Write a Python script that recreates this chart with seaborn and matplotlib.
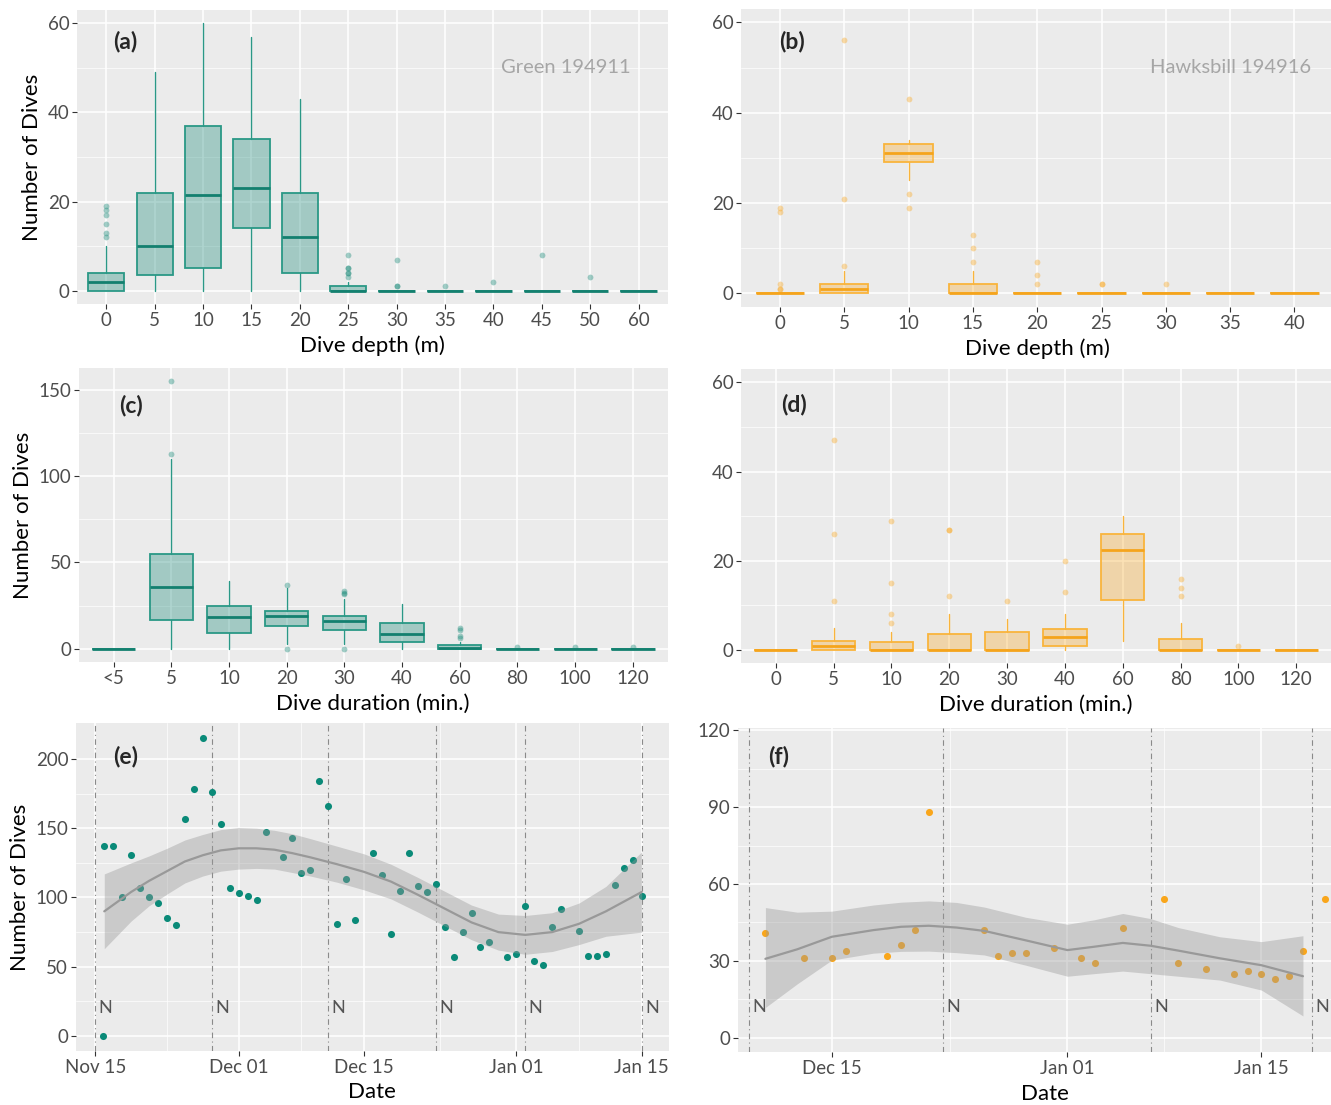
import matplotlib
matplotlib.use('Agg')
import matplotlib.pyplot as plt
import matplotlib.dates as mdates
from matplotlib.ticker import NullLocator
import seaborn as sns
import pandas as pd

# ---------------- data ----------------
# (a) Green 194911 - dive depth
cats_a = ['0', '5', '10', '15', '20', '25', '30', '35', '40', '45', '50', '60']
a_q1 = [0, 3.5, 5, 14, 4, 0, 0, 0, 0, 0, 0, 0]
a_med = [2, 10, 21.5, 23, 12, 0, 0, 0, 0, 0, 0, 0]
a_q3 = [4, 22, 37, 34, 22, 1, 0, 0, 0, 0, 0, 0]
a_wlo = [0, 0, 0, 0, 0, 0, 0, 0, 0, 0, 0, 0]
a_whi = [10, 49, 60, 57, 43, 2, 0, 0, 0, 0, 0, 0]
a_out = [[12, 13, 15, 17, 18, 19], [], [], [], [], [3, 4, 4, 5, 5, 8],
         [1, 1, 7], [1], [2], [8], [3], []]

# (b) Hawksbill 194916 - dive depth
cats_b = ['0', '5', '10', '15', '20', '25', '30', '35', '40']
b_q1 = [0, 0, 29, 0, 0, 0, 0, 0, 0]
b_med = [0, 1, 31, 0, 0, 0, 0, 0, 0]
b_q3 = [0, 2, 33, 2, 0, 0, 0, 0, 0]
b_wlo = [0, 0, 25, 0, 0, 0, 0, 0, 0]
b_whi = [0, 5, 34, 5, 0, 0, 0, 0, 0]
b_out = [[1, 1, 2, 18, 19], [6, 21, 56], [19, 22, 43], [7, 10, 13],
         [2, 4, 7], [2, 2], [2], [], []]

# (c) Green - dive duration
cats_c = ['<5', '5', '10', '20', '30', '40', '60', '80', '100', '120']
c_q1 = [0, 16.5, 9, 13, 11, 4, 0, 0, 0, 0]
c_med = [0, 35.5, 18.5, 19, 16, 8.5, 0.5, 0, 0, 0]
c_q3 = [0, 55, 25, 22, 19, 15, 2, 0, 0, 0]
c_wlo = [0, 0, 0, 3, 3, 0, 0, 0, 0, 0]
c_whi = [0, 110, 39, 35, 29, 26, 4, 0, 0, 0]
c_out = [[], [113, 155], [], [0, 37], [0, 31.5, 32.5, 33.5], [],
         [6.5, 7.5, 11, 12], [1], [1], [1]]

# (d) Hawksbill - dive duration
cats_d = ['0', '5', '10', '20', '30', '40', '60', '80', '100', '120']
d_q1 = [0, 0, 0, 0, 0, 1, 11.3, 0, 0, 0]
d_med = [0, 1, 0, 0, 0, 3, 22.5, 0, 0, 0]
d_q3 = [0, 2, 1.7, 3.7, 4, 4.8, 26, 2.5, 0, 0]
d_wlo = [0, 0, 0, 0, 0, 0, 2, 0, 0, 0]
d_whi = [0, 5, 4, 8, 7, 8, 30, 6, 0, 0]
d_out = [[], [11, 26, 47], [6, 8, 15, 29], [12, 27, 27], [11], [13, 20],
         [], [12, 14, 16], [1], []]

# (e) Green - daily dives
e_dates = ['2017-11-15 21:00', '2017-11-16', '2017-11-17', '2017-11-18', '2017-11-19',
           '2017-11-20', '2017-11-21', '2017-11-22', '2017-11-23', '2017-11-24',
           '2017-11-25', '2017-11-26', '2017-11-27', '2017-11-28', '2017-11-29',
           '2017-11-30', '2017-12-01', '2017-12-02', '2017-12-03', '2017-12-04',
           '2017-12-06', '2017-12-07', '2017-12-08', '2017-12-09', '2017-12-10',
           '2017-12-11', '2017-12-12', '2017-12-13', '2017-12-14', '2017-12-16',
           '2017-12-17', '2017-12-18', '2017-12-19', '2017-12-20', '2017-12-21',
           '2017-12-22', '2017-12-23', '2017-12-24', '2017-12-25', '2017-12-26',
           '2017-12-27', '2017-12-28', '2017-12-29', '2017-12-31', '2018-01-01',
           '2018-01-02', '2018-01-03', '2018-01-04', '2018-01-05', '2018-01-06',
           '2018-01-08', '2018-01-09', '2018-01-10', '2018-01-11', '2018-01-12',
           '2018-01-13', '2018-01-14', '2018-01-15']
e_vals = [0, 137, 137, 100, 131, 107, 100, 96, 85, 80, 157, 178, 215, 176, 153,
          107, 103, 101, 98, 147, 129, 143, 118, 120, 184, 166, 81, 113, 84, 132,
          116, 74, 105, 132, 108, 104, 110, 79, 57, 75, 89, 64, 68, 57, 59,
          94, 54, 51, 79, 92, 76, 58, 58, 59, 109, 121, 127, 101]
e_new = ['2017-11-15', '2017-11-28', '2017-12-11', '2017-12-23', '2018-01-02', '2018-01-15']
e_sm_dates = ['2017-11-16', '2017-11-19', '2017-11-21', '2017-11-23', '2017-11-25',
              '2017-11-27', '2017-11-29', '2017-12-01', '2017-12-03', '2017-12-05',
              '2017-12-07', '2017-12-09', '2017-12-12', '2017-12-15', '2017-12-18',
              '2017-12-21', '2017-12-24', '2017-12-27', '2017-12-30', '2018-01-02',
              '2018-01-05', '2018-01-08', '2018-01-11', '2018-01-15']
e_sm_fit = [90, 104, 112, 119, 126, 130.5, 134, 135.5, 135.5, 134.5, 132, 129, 124,
            118.5, 111.5, 102, 92, 82, 75, 73, 75, 81, 90, 104]
e_sm_lo = [63, 83, 94, 102.5, 110.5, 115.5, 119, 120.5, 121, 120.5, 118, 115.5, 111,
           105.5, 99, 89.5, 79.5, 69.5, 62, 59, 61, 66, 72, 75]
e_sm_hi = [117, 125, 130, 135.5, 141.5, 145.5, 149, 150.5, 150, 148.5, 146, 142.5, 137,
           131.5, 124, 114.5, 104.5, 94.5, 88, 87, 89, 96, 108, 133]

# (f) Hawksbill - daily dives
f_dates = ['2017-12-10 05:00', '2017-12-13', '2017-12-15', '2017-12-16', '2017-12-19',
           '2017-12-20', '2017-12-21', '2017-12-22', '2017-12-26', '2017-12-27',
           '2017-12-28', '2017-12-29', '2017-12-31', '2018-01-02', '2018-01-03',
           '2018-01-05', '2018-01-08', '2018-01-09', '2018-01-11', '2018-01-13',
           '2018-01-14', '2018-01-15', '2018-01-16', '2018-01-17', '2018-01-18',
           '2018-01-19 14:00']
f_vals = [41, 31, 31, 34, 32, 36, 42, 88, 42, 32, 33, 33, 35, 31, 29, 43, 54,
          29, 27, 25, 26, 25, 23, 24, 34, 54]
f_new = ['2017-12-09', '2017-12-23', '2018-01-07', '2018-01-18 16:00']
f_sm_dates = ['2017-12-10 05:00', '2017-12-12 12:00', '2017-12-15', '2017-12-18',
              '2017-12-20', '2017-12-22', '2017-12-24', '2017-12-26', '2017-12-29',
              '2018-01-01', '2018-01-02 22:00', '2018-01-05', '2018-01-07',
              '2018-01-09', '2018-01-12', '2018-01-15', '2018-01-18']
f_sm_fit = [30.8, 34.5, 39.4, 42, 43.3, 43.7, 43, 41.7, 38, 34.2, 35.5, 37, 35.9,
            34, 31, 28.3, 24]
f_sm_lo = [11.8, 21, 30.3, 33, 33.7, 33.8, 33.2, 32.3, 28.3, 24, 25, 26, 25, 24,
           22.5, 18.6, 8.5]
f_sm_hi = [50.8, 49, 49.4, 51.8, 52.9, 53.4, 52.8, 51, 47, 44.3, 46, 48.5, 46.5,
           43, 39.4, 37.5, 39.8]

# ---------------- style ----------------
TEAL = '#1B8A79'
TEAL_EDGE = '#2A9886'
TEAL_MED = '#13806F'
ORANGE = '#F9A825'
ORANGE_EDGE = '#F9B43C'
ORANGE_MED = '#F5A41C'
PT_TEAL = '#0A8A78'
PT_ORANGE = '#F9A61B'

sns.set_theme(style='darkgrid', rc={'axes.facecolor': '#EBEBEB', 'grid.color': 'white'})
plt.rcParams['font.family'] = ['Lato', 'DejaVu Sans']

W, H = 1331, 1105
fig = plt.figure(figsize=(W / 100, H / 100), dpi=100)
fig.patch.set_facecolor('white')

LABEL_FS = 16
PANEL_FS = 16.5
XPAD = 5


def to_dt(vals):
    return pd.to_datetime(pd.Series(vals), format='mixed')


def pos(l, t, r, b):
    return [l / W, 1 - b / H, (r - l) / W, (b - t) / H]


def style(ax):
    ax.set_facecolor('#EBEBEB')
    for s in ax.spines.values():
        s.set_visible(False)
    ax.set_axisbelow(True)
    ax.grid(True, which='major', color='white', lw=1.1)
    ax.grid(True, which='minor', color='white', lw=0.5)
    ax.tick_params(which='major', length=3.5, width=0.8, color='#333333',
                   labelsize=13.5, labelcolor='#4D4D4D', pad=2, left=True, bottom=True)
    ax.tick_params(which='minor', length=0)


def box_panel(ax, cats, q1, med, q3, wlo, whi, outs, base, edge, medc, alpha,
              ylim, yticks, yminor):
    stats = [dict(med=m, q1=a, q3=b, whislo=lo, whishi=hi, fliers=o)
             for a, m, b, lo, hi, o in zip(q1, med, q3, wlo, whi, outs)]
    ax.bxp(stats, positions=list(range(len(cats))), widths=0.75, patch_artist=True,
           showcaps=False, manage_ticks=False,
           boxprops=dict(facecolor=matplotlib.colors.to_rgba(base, alpha),
                         edgecolor=edge, lw=1.3),
           medianprops=dict(color=medc, lw=2.0),
           whiskerprops=dict(color=edge, lw=1.0),
           flierprops=dict(marker='o', markerfacecolor=base, markeredgecolor='none',
                           markersize=4.2, alpha=0.4))
    style(ax)
    ax.set_xticks(range(len(cats)))
    ax.set_xticklabels(cats)
    ax.xaxis.set_minor_locator(NullLocator())
    ax.set_xlim(-0.6, len(cats) - 0.4)
    ax.set_ylim(*ylim)
    ax.set_yticks(yticks)
    ax.set_yticks(yminor, minor=True)


# (a)
ax_a = fig.add_axes(pos(77.3, 9.9, 667.6, 304.1))
box_panel(ax_a, cats_a, a_q1, a_med, a_q3, a_wlo, a_whi, a_out, TEAL, TEAL_EDGE,
          TEAL_MED, 0.35, (-3, 63), [0, 20, 40, 60], [10, 30, 50])
ax_a.set_xlabel('Dive depth (m)', fontsize=LABEL_FS, color='black', labelpad=XPAD)
ax_a.set_ylabel('Number of Dives', fontsize=LABEL_FS, color='black', labelpad=4)
ax_a.text(0.4, 56, '(a)', fontsize=PANEL_FS, fontweight='bold', ha='center', va='center')
ax_a.text(9.5, 50, 'Green 194911', fontsize=14.5, color='#A6A6A6', ha='center', va='center')

# (b)
ax_b = fig.add_axes(pos(741.4, 8.8, 1333, 306.9))
box_panel(ax_b, cats_b, b_q1, b_med, b_q3, b_wlo, b_whi, b_out, ORANGE, ORANGE_EDGE,
          ORANGE_MED, 0.33, (-3, 63), [0, 20, 40, 60], [10, 30, 50])
ax_b.set_xlabel('Dive depth (m)', fontsize=LABEL_FS, color='black', labelpad=XPAD)
ax_b.text(0.18, 55.7, '(b)', fontsize=PANEL_FS, fontweight='bold', ha='center', va='center')
ax_b.text(7.0, 50, 'Hawksbill 194916', fontsize=14.5, color='#A6A6A6', ha='center', va='center')

# (c)
ax_c = fig.add_axes(pos(79, 368.0, 667.5, 662.1))
box_panel(ax_c, cats_c, c_q1, c_med, c_q3, c_wlo, c_whi, c_out, TEAL, TEAL_EDGE,
          TEAL_MED, 0.35, (-7.75, 162.75), [0, 50, 100, 150], [25, 75, 125])
ax_c.set_xlabel('Dive duration (min.)', fontsize=LABEL_FS, color='black', labelpad=XPAD)
ax_c.set_ylabel('Number of Dives', fontsize=LABEL_FS, color='black', labelpad=4)
ax_c.text(0.3, 141, '(c)', fontsize=PANEL_FS, fontweight='bold', ha='center', va='center')

# (d)
ax_d = fig.add_axes(pos(741, 368.9, 1331, 663.4))
box_panel(ax_d, cats_d, d_q1, d_med, d_q3, d_wlo, d_whi, d_out, ORANGE, ORANGE_EDGE,
          ORANGE_MED, 0.33, (-3, 63), [0, 20, 40, 60], [10, 30, 50])
ax_d.set_xlabel('Dive duration (min.)', fontsize=LABEL_FS, color='black', labelpad=XPAD)
ax_d.text(0.31, 55, '(d)', fontsize=PANEL_FS, fontweight='bold', ha='center', va='center')


def time_panel(ax, dates, vals, sm_dates, fit, lo, hi, news, ptcol, n_y,
               xlim, ylim, yticks, yminor, majors, minors, lab, lab_xy):
    d = to_dt(dates)
    sm = to_dt(sm_dates)
    for nd in to_dt(news):
        ax.axvline(nd, color='#8A8A8A', lw=0.8, ls=(0, (5, 3, 1, 3)), zorder=1)
        ax.annotate('N', xy=(mdates.date2num(nd), n_y), xytext=(2.5, 0),
                    textcoords='offset points', ha='left', va='center',
                    fontsize=13, color='#555555')
    sns.scatterplot(x=d, y=vals, color=ptcol, s=26, linewidth=0, ax=ax, zorder=2)
    ax.fill_between(sm, lo, hi, color='#999999', alpha=0.4, lw=0, zorder=3)
    sns.lineplot(x=sm, y=fit, color='#999999', lw=1.6, ax=ax, zorder=4)
    style(ax)
    ax.set_xlim(pd.Timestamp(xlim[0]), pd.Timestamp(xlim[1]))
    ax.set_ylim(*ylim)
    ax.set_yticks(yticks)
    ax.set_yticks(yminor, minor=True)
    ax.set_xticks(to_dt(majors))
    ax.set_xticks(to_dt(minors), minor=True)
    ax.xaxis.set_major_formatter(mdates.DateFormatter('%b %d'))
    ax.set_xlabel('Date', fontsize=LABEL_FS, color='black', labelpad=XPAD)
    ax.set_ylabel('')
    ax.text(mdates.date2num(pd.Timestamp(lab_xy[0])), lab_xy[1], lab, fontsize=PANEL_FS,
            fontweight='bold', ha='center', va='center')


# (e)
ax_e = fig.add_axes(pos(75.9, 723.3, 668.6, 1050.9))
time_panel(ax_e, e_dates, e_vals, e_sm_dates, e_sm_fit, e_sm_lo, e_sm_hi, e_new, PT_TEAL,
           20, ('2017-11-12 20:00', '2018-01-18 00:00'), (-10.75, 225.75),
           [0, 50, 100, 150, 200], [25, 75, 125, 175],
           ['2017-11-15', '2017-12-01', '2017-12-15', '2018-01-01', '2018-01-15'],
           ['2017-11-23', '2017-12-08', '2017-12-23 12:00', '2018-01-08'],
           '(e)', ('2017-11-18 10:00', 202))
ax_e.set_ylabel('Number of Dives', fontsize=LABEL_FS, color='black', labelpad=4)

# (f)
ax_f = fig.add_axes(pos(737.7, 728, 1352.6, 1052.3))
time_panel(ax_f, f_dates, f_vals, f_sm_dates, f_sm_fit, f_sm_lo, f_sm_hi, f_new, PT_ORANGE,
           12, ('2017-12-08 05:00', '2018-01-21 14:00'), (-5.7, 120.9),
           [0, 30, 60, 90, 120], [15, 45, 75, 105],
           ['2017-12-15', '2018-01-01', '2018-01-15'],
           ['2017-12-23 12:00', '2018-01-08'],
           '(f)', ('2017-12-11 04:00', 109.6))

fig.savefig('out.png', dpi=100, facecolor='white')
